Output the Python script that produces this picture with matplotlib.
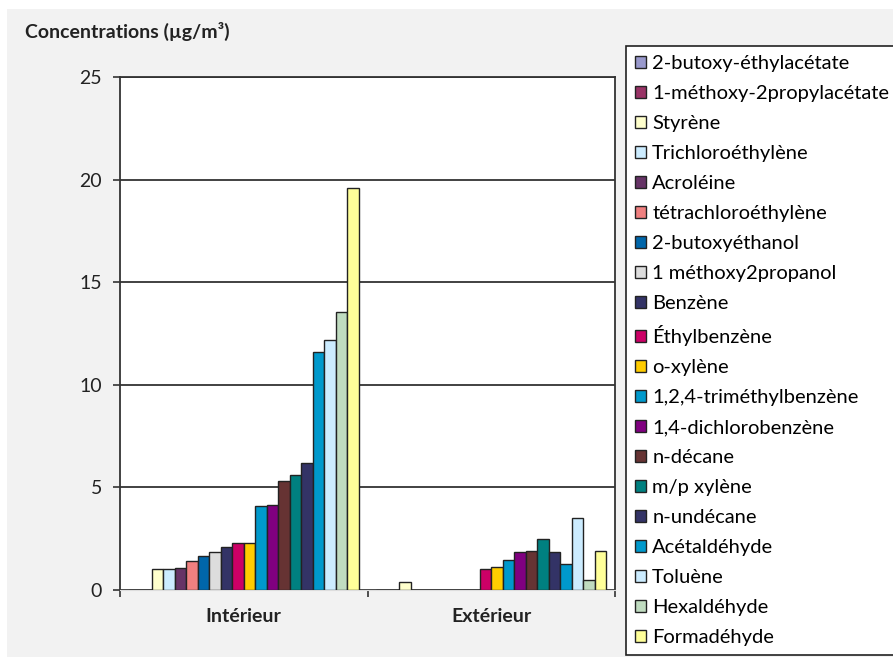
import matplotlib
matplotlib.use("Agg")
import matplotlib.pyplot as plt
from matplotlib.patches import Rectangle
import numpy as np

plt.rcParams['font.family'] = ['Lato', 'DejaVu Sans']

categories = ["Intérieur", "Extérieur"]
series = ["2-butoxy-éthylacétate", "1-méthoxy-2propylacétate", "Styrène",
          "Trichloroéthylène", "Acroléine", "tétrachloroéthylène", "2-butoxyéthanol",
          "1 méthoxy2propanol", "Benzène", "Éthylbenzène", "o-xylène",
          "1,2,4-triméthylbenzène", "1,4-dichlorobenzène", "n-décane", "m/p xylène",
          "n-undécane", "Acétaldéhyde", "Toluène", "Hexaldéhyde", "Formadéhyde"]
interieur = [0, 0, 1.0, 1.0, 1.05, 1.43, 1.64, 1.87, 2.08, 2.29, 2.29,
             4.08, 4.15, 5.3, 5.6, 6.2, 11.6, 12.2, 13.56, 19.57]
exterieur = [0, 0, 0.4, 0, 0, 0, 0, 0, 0, 1.0, 1.1,
             1.45, 1.84, 1.9, 2.47, 1.84, 1.25, 3.5, 0.49, 1.92]
colors = ["#9999CC", "#993366", "#FFFFCC", "#CCECFF", "#663366", "#F08080",
          "#0066AA", "#DDDDDD", "#333366", "#CC0066", "#FFCC00", "#0099CC",
          "#800080", "#663333", "#008080", "#333366", "#0099CC", "#CCECFF",
          "#C0DCC0", "#FFFF99"]
yticks = [0, 5, 10, 15, 20, 25]

W, H = 893, 657
fig = plt.figure(figsize=(W / 100, H / 100), dpi=100)
fig.patch.set_facecolor("white")
fig.add_artist(Rectangle((7 / W, -0.02), 1.1, 1.02 - 9 / H, transform=fig.transFigure,
                         facecolor="#F2F2F2", edgecolor="none", zorder=-10))
ax = fig.add_axes([120 / W, 1 - 590 / H, 495 / W, 513 / H])
ax.set_facecolor("white")

n = len(series)
bw = 0.93 / n
x = np.arange(len(categories))
values = np.array([interieur, exterieur])
for i, (name, col) in enumerate(zip(series, colors)):
    pos = x - 0.465 + bw * (i + 0.5)
    ax.bar(pos, values[:, i], width=bw, color=col, edgecolor="#222222",
           linewidth=1.0, label=name, zorder=3)

ax.set_xlim(-0.5, 1.5)
ax.set_ylim(0, 25)
ax.set_yticks(yticks)
ax.set_yticklabels([str(t) for t in yticks], fontsize=14, color="#222222")
ax.yaxis.grid(True, color="#333333", linewidth=1.3, zorder=0)
ax.set_axisbelow(True)
ax.set_xticks([-0.5, 0.5, 1.5])
ax.set_xticklabels([])
ax.tick_params(axis="x", length=5, width=1.2, color="#333333", direction="out")
ax.tick_params(axis="y", length=5, width=1.2, color="#333333", pad=8)
for t, c in zip(x, categories):
    ax.text(t, -1.3, c, ha="center", va="center", fontsize=14, fontweight="bold",
            color="#222222", transform=ax.transData)
for s in ["left", "right", "top"]:
    ax.spines[s].set_color("#333333")
    ax.spines[s].set_linewidth(1.3)
ax.spines["bottom"].set_color("#DDDDDD")

fig.text(25 / W, 1 - 31 / H, "Concentrations (µg/m³)", fontsize=14,
         fontweight="bold", ha="left", va="center", color="#222222")

leg = fig.legend(loc="upper left", bbox_to_anchor=(626 / W, 1 - 46 / H),
                 fontsize=14.5, frameon=True, fancybox=False, edgecolor="#222222",
                 facecolor="white", framealpha=1, handlelength=0.55,
                 handleheight=0.55, handletextpad=0.3, labelspacing=0.645,
                 borderpad=0.45, borderaxespad=0)
leg.get_frame().set_linewidth(1.2)

fig.savefig("out.png", dpi=100, facecolor=fig.get_facecolor())
